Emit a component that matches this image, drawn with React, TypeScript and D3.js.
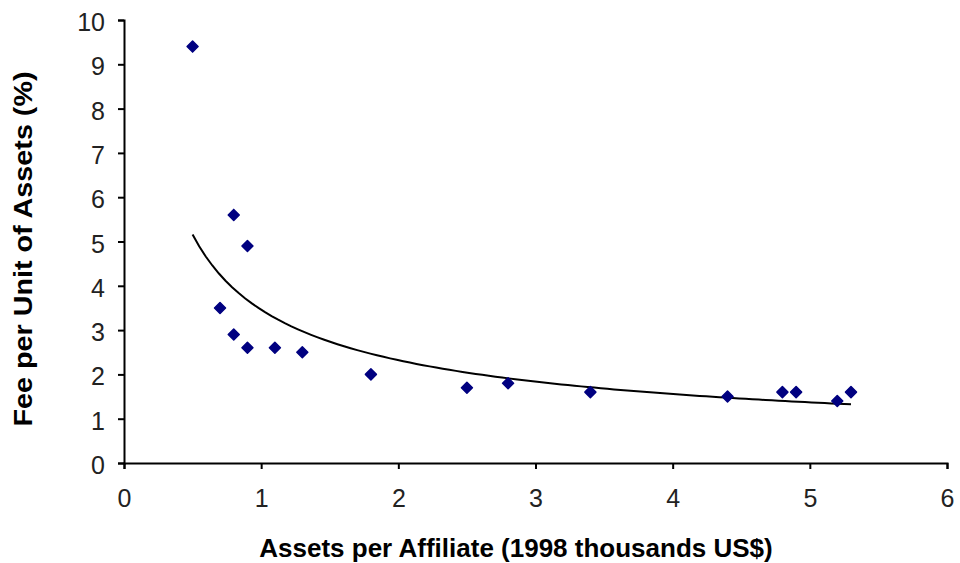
import { useEffect, useRef } from 'react';
import * as d3 from 'd3';

// Assets per affiliate (1998 thousands US$) and fee per unit of assets (%)
const assetsPerAffiliate = [0.5, 0.7, 0.8, 0.8, 0.9, 0.9, 1.1, 1.3, 1.8, 2.5, 2.8, 3.4, 4.4, 4.8, 4.9, 5.2, 5.3];
const feePerUnit = [9.4, 3.5, 5.6, 2.9, 4.9, 2.6, 2.6, 2.5, 2.0, 1.7, 1.8, 1.6, 1.5, 1.6, 1.6, 1.4, 1.6];

const xTicks = [0, 1, 2, 3, 4, 5, 6];
const yTicks = [0, 1, 2, 3, 4, 5, 6, 7, 8, 9, 10];

const xTitle = 'Assets per Affiliate (1998 thousands US$)';
const yTitle = 'Fee per Unit of Assets (%)';

const WIDTH = 960;
const HEIGHT = 563;
const FONT = '"Liberation Sans", Arial, sans-serif';

export default function App() {
  const svgRef = useRef<SVGSVGElement>(null);

  useEffect(() => {
    const svg = d3.select(svgRef.current);
    svg.selectAll('*').remove();

    const data = assetsPerAffiliate.map((x, i) => ({ x, y: feePerUnit[i] }));

    const xScale = d3.scaleLinear().domain([0, 6]).range([124, 947]);
    const yScale = d3.scaleLinear().domain([0, 10]).range([463, 20]);

    // Power trendline y = a * x^b fitted by least squares on logs (like Excel)
    const lx = data.map(d => Math.log(d.x));
    const ly = data.map(d => Math.log(d.y));
    const mx = d3.mean(lx)!;
    const my = d3.mean(ly)!;
    const sxy = d3.sum(lx, (v, i) => (v - mx) * (ly[i] - my));
    const sxx = d3.sum(lx, v => (v - mx) * (v - mx));
    const b = sxy / sxx;
    const a = Math.exp(my - b * mx);
    const [xmin, xmax] = d3.extent(assetsPerAffiliate) as [number, number];
    const trend = d3.range(0, 101).map(i => {
      const x = xmin + (xmax - xmin) * i / 100;
      return { x, y: a * Math.pow(x, b) };
    });

    // Axes
    const xAxis = svg.append('g')
      .attr('transform', `translate(0,${yScale(0)})`)
      .call(d3.axisBottom(xScale).tickValues(xTicks).tickFormat(d3.format('d')).tickSizeOuter(0).tickSize(6).tickPadding(29));

    const yAxis = svg.append('g')
      .attr('transform', `translate(${xScale(0)},0)`)
      .call(d3.axisLeft(yScale).tickValues(yTicks).tickFormat(d3.format('d')).tickSizeOuter(0).tickSize(6).tickPadding(13));

    svg.selectAll('.domain')
      .style('stroke', '#000')
      .style('stroke-width', 2);
    svg.selectAll('.tick line')
      .style('stroke', '#000')
      .style('stroke-width', 2);

    xAxis.selectAll('text')
      .style('font-family', FONT)
      .style('font-size', '25px')
      .style('fill', '#222')
      .attr('dy', '0.35em');

    yAxis.selectAll('text')
      .style('font-family', FONT)
      .style('font-size', '25px')
      .style('fill', '#222')
      .attr('dy', '0.42em');

    // Trendline
    const line = d3.line<{ x: number; y: number }>()
      .x(d => xScale(d.x))
      .y(d => yScale(d.y))
      .curve(d3.curveLinear);

    svg.append('path')
      .datum(trend)
      .attr('d', line)
      .attr('fill', 'none')
      .attr('stroke', '#000')
      .attr('stroke-width', 2);

    // Diamond markers
    const r = 5.5;
    svg.selectAll('.pt')
      .data(data)
      .enter().append('path')
      .attr('class', 'pt')
      .attr('d', `M0,${-r}L${r},0L0,${r}L${-r},0Z`)
      .attr('transform', d => `translate(${xScale(d.x)},${yScale(d.y)})`)
      .attr('fill', '#000080')
      .attr('stroke', '#000080')
      .attr('stroke-width', 1.5)
      .attr('stroke-linejoin', 'round');

    // Axis titles
    svg.append('text')
      .attr('x', 516)
      .attr('y', 557)
      .attr('text-anchor', 'middle')
      .style('font-family', FONT)
      .style('font-size', '26px')
      .style('font-weight', 'bold')
      .style('fill', '#000')
      .text(xTitle);

    svg.append('text')
      .attr('transform', `translate(32,249) rotate(-90) scale(1.15,1)`)
      .attr('text-anchor', 'middle')
      .style('font-family', FONT)
      .style('font-size', '25px')
      .style('font-weight', 'bold')
      .style('fill', '#000')
      .text(yTitle);
  }, []);

  return (
    <svg
      ref={svgRef}
      width={WIDTH}
      height={HEIGHT}
      style={{ position: 'absolute', left: 0, top: 0, background: '#fff' }}
    />
  );
}
